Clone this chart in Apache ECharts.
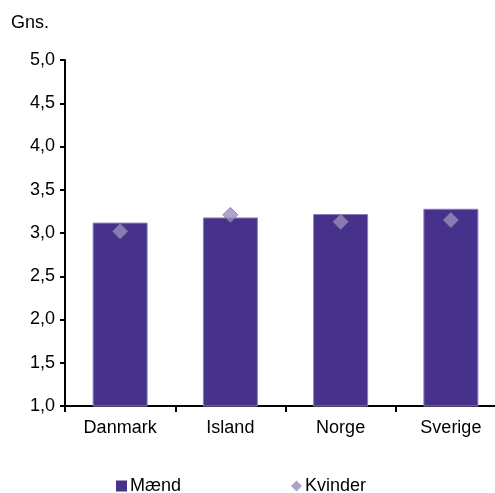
<!DOCTYPE html>
<html><head><meta charset="utf-8">
<script src="https://cdn.jsdelivr.net/npm/echarts@6/dist/echarts.min.js"></script>
<style>html,body{margin:0;padding:0;background:#fff}#c{width:495px;height:493px}</style>
</head><body><div id="c"></div>
<script>
const categories = ['Danmark', 'Island', 'Norge', 'Sverige'];
const maend = [3.12, 3.18, 3.22, 3.28];
const kvinder = [3.02, 3.21, 3.13, 3.15];
const yTicks = ['1,0','1,5','2,0','2,5','3,0','3,5','4,0','4,5','5,0'];

const chart = echarts.init(document.getElementById('c'));
const font = 'Liberation Sans, Arial, sans-serif';
chart.setOption({
  animation: false,
  textStyle: { fontFamily: font },
  graphic: [{ type: 'text', left: 11, top: 14, style: { text: 'Gns.', font: '18px ' + font, fill: '#000' } }],
  grid: { left: 65, width: 441, top: 60, bottom: 87, containLabel: false, outerBoundsMode: 'none' },
  legend: {
    left: 116, top: 477, padding: 0, itemGap: 110, itemWidth: 11, itemHeight: 11,
    textStyle: { fontSize: 18, color: '#000', fontFamily: font, padding: [0, 0, 0, -2] },
    data: [
      { name: 'Mænd', icon: 'rect', itemStyle: { borderWidth: 0 } },
      { name: 'Kvinder', icon: 'diamond', itemStyle: { borderWidth: 0 } }
    ]
  },
  xAxis: {
    type: 'category', data: categories,
    axisLine: { lineStyle: { color: '#000', width: 2 } },
    axisTick: { show: true, length: 6, lineStyle: { color: '#000', width: 2 } },
    axisLabel: { color: '#000', fontSize: 18, margin: 13, fontFamily: font }
  },
  yAxis: {
    type: 'value', min: 1, max: 5, interval: 0.5,
    splitLine: { show: false },
    axisLine: { show: true, lineStyle: { color: '#000', width: 2 } },
    axisTick: { show: true, length: 5, lineStyle: { color: '#000', width: 2 } },
    axisLabel: { color: '#000', fontSize: 18, margin: 10, fontFamily: font,
      formatter: v => yTicks[Math.round((v - 1) / 0.5)] }
  },
  series: [
    { name: 'Mænd', type: 'bar', data: maend, barWidth: 55,
      itemStyle: { color: '#46328a', borderColor: '#8c7fc0', borderWidth: 1 } },
    { name: 'Kvinder', type: 'scatter', data: kvinder, symbol: 'diamond', symbolSize: 15,
      itemStyle: { color: '#9a8cc0', borderColor: '#85808f', borderWidth: 1 }, z: 5 }
  ]
});
</script></body></html>
